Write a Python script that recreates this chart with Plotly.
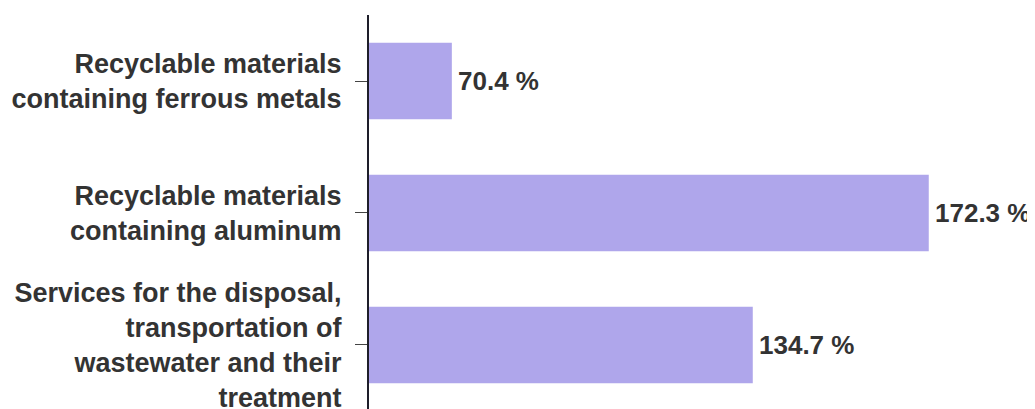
import plotly.graph_objects as go

categories = [
    "Recyclable materials<br>containing ferrous metals",
    "Recyclable materials<br>containing aluminum",
    "Services for the disposal,<br>transportation of<br>wastewater and their<br>treatment",
]
values = [70.4, 172.3, 134.7]
value_labels = ["70.4 %", "172.3 %", "134.7 %"]

BAR = "#afa6eb"
TXT = "#333333"
FONT = "Liberation Sans, Arial, sans-serif"

fig = go.Figure()
fig.add_trace(go.Bar(
    y=categories, x=values, orientation="h",
    marker=dict(color=BAR, line=dict(width=0)),
    width=0.58, hoverinfo="skip",
))
for c, v, t in zip(categories, values, value_labels):
    fig.add_annotation(x=v, y=c, text="<b>%s</b>" % t, showarrow=False,
                       xanchor="left", yanchor="middle", xshift=4,
                       font=dict(family=FONT, size=26, color=TXT))

# page body adds an 8px offset; size the figure to fit the window
fig.update_layout(
    width=1027, height=401,
    margin=dict(l=361, r=0, t=7, b=0, autoexpand=False),
    paper_bgcolor="white", plot_bgcolor="white",
    showlegend=False,
    xaxis=dict(range=[52.7, 195.0], visible=False, showgrid=False, zeroline=False,
               automargin=False),
    yaxis=dict(
        categoryorder="array", categoryarray=categories,
        range=[2.485, -0.5], automargin=False,
        showline=True, linecolor="#1e1e2a", linewidth=2,
        ticks="outside", ticklen=12, tickcolor="#444444", tickwidth=1,
        ticklabelstandoff=8,
        tickfont=dict(family=FONT, size=27, color=TXT, weight="bold"),
        showgrid=False, zeroline=False,
    ),
)
fig.write_html("out.html")
